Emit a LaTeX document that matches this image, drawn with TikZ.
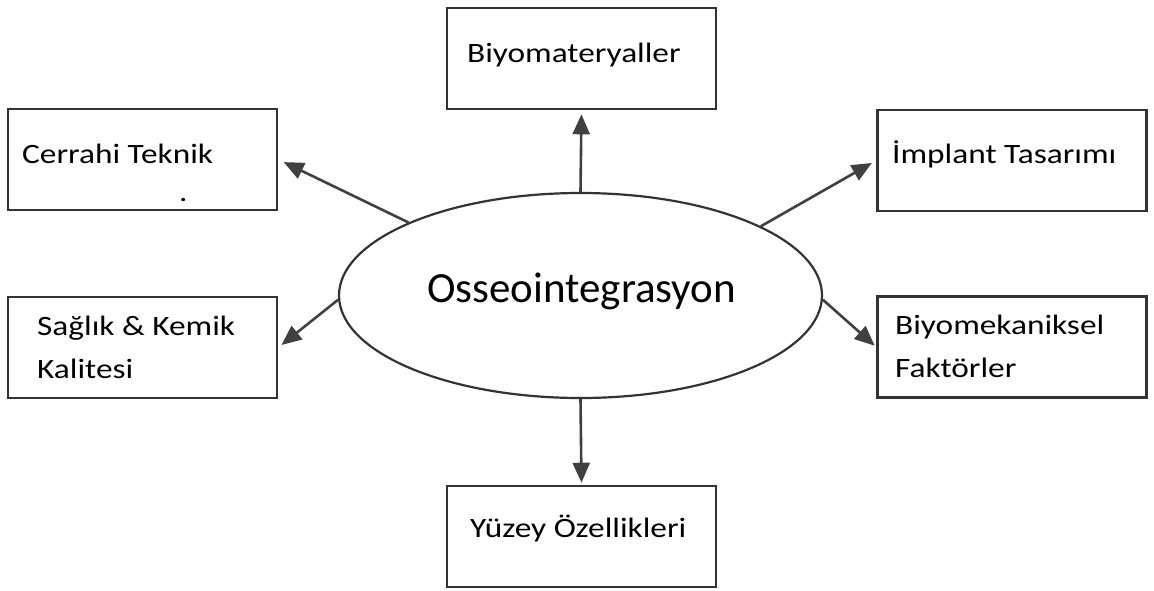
\documentclass[tikz,border=0pt]{standalone}
\usepackage{fontspec}
\setmainfont{Carlito}
\newfontfamily\kutufont[FakeStretch=1.19]{Carlito}
\usetikzlibrary{arrows.meta,shapes.geometric}
\begin{document}
\begin{tikzpicture}[x=1pt,y=-1pt,
            kutu/.style={draw=black!80,line width=2.6pt,minimum width=269pt,minimum height=101pt,inner sep=0pt},
            yazi/.style={anchor=base west,inner sep=0pt,font=\kutufont\fontsize{28}{43}\selectfont,align=left},
            pil/.style={draw=black!75,line width=2.6pt,-{Triangle[length=20pt,width=17pt]}}]
            \useasboundingbox (0,0) rectangle (1154,590);
            \node [kutu] (biyomat) at (581.5,58.5) {};
            \node [kutu] (cerrahi) at (142.5,159.5) {};
            \node [kutu] (implant) at (1012,160.5) {};
            \node [kutu] (saglik) at (142.5,347.5) {};
            \node [kutu] (biyomek) at (1012,347) {};
            \node [kutu] (yuzey) at (581.5,536.5) {};
            \node [draw=black!80,line width=2.2pt,ellipse,minimum width=483pt,minimum height=205pt] (oss) at (580.5,295.5) {};
            \node [yazi] (t1) at (467,62) {Biyomateryaller};
            \node [yazi] (t2) at (22,163) {Cerrahi Teknik};
            \node [yazi] (t3) at (179,201) {.};
            \node [yazi] (t4) at (892,163) {İmplant Tasarımı};
            \node [yazi] (t5) at (37,378) {Sağlık \& Kemik\\Kalitesi};
            \node [yazi] (t6) at (895,377) {Biyomekaniksel\\Faktörler};
            \node [yazi] (t7) at (470,537) {Yüzey Özellikleri};
            \node [anchor=base west,inner sep=0pt,font=\fontsize{43}{50}\selectfont] (t8) at (427,302) {Osseointegrasyon};
            \draw [pil,shorten >=4pt] (oss.north) -- (biyomat.south);
            \draw [pil,shorten >=6pt] (oss.157.6) -- (cerrahi.east);
            \draw [pil,shorten >=5pt] (oss.21.7) -- (implant.west);
            \draw [pil,shorten >=4pt] (oss.181) -- (saglik.east);
            \draw [pil,shorten >=2pt] (oss.359) -- (biyomek.west);
            \draw [pil,shorten >=2pt] (oss.south) -- (yuzey.north);
\end{tikzpicture}
\end{document}
